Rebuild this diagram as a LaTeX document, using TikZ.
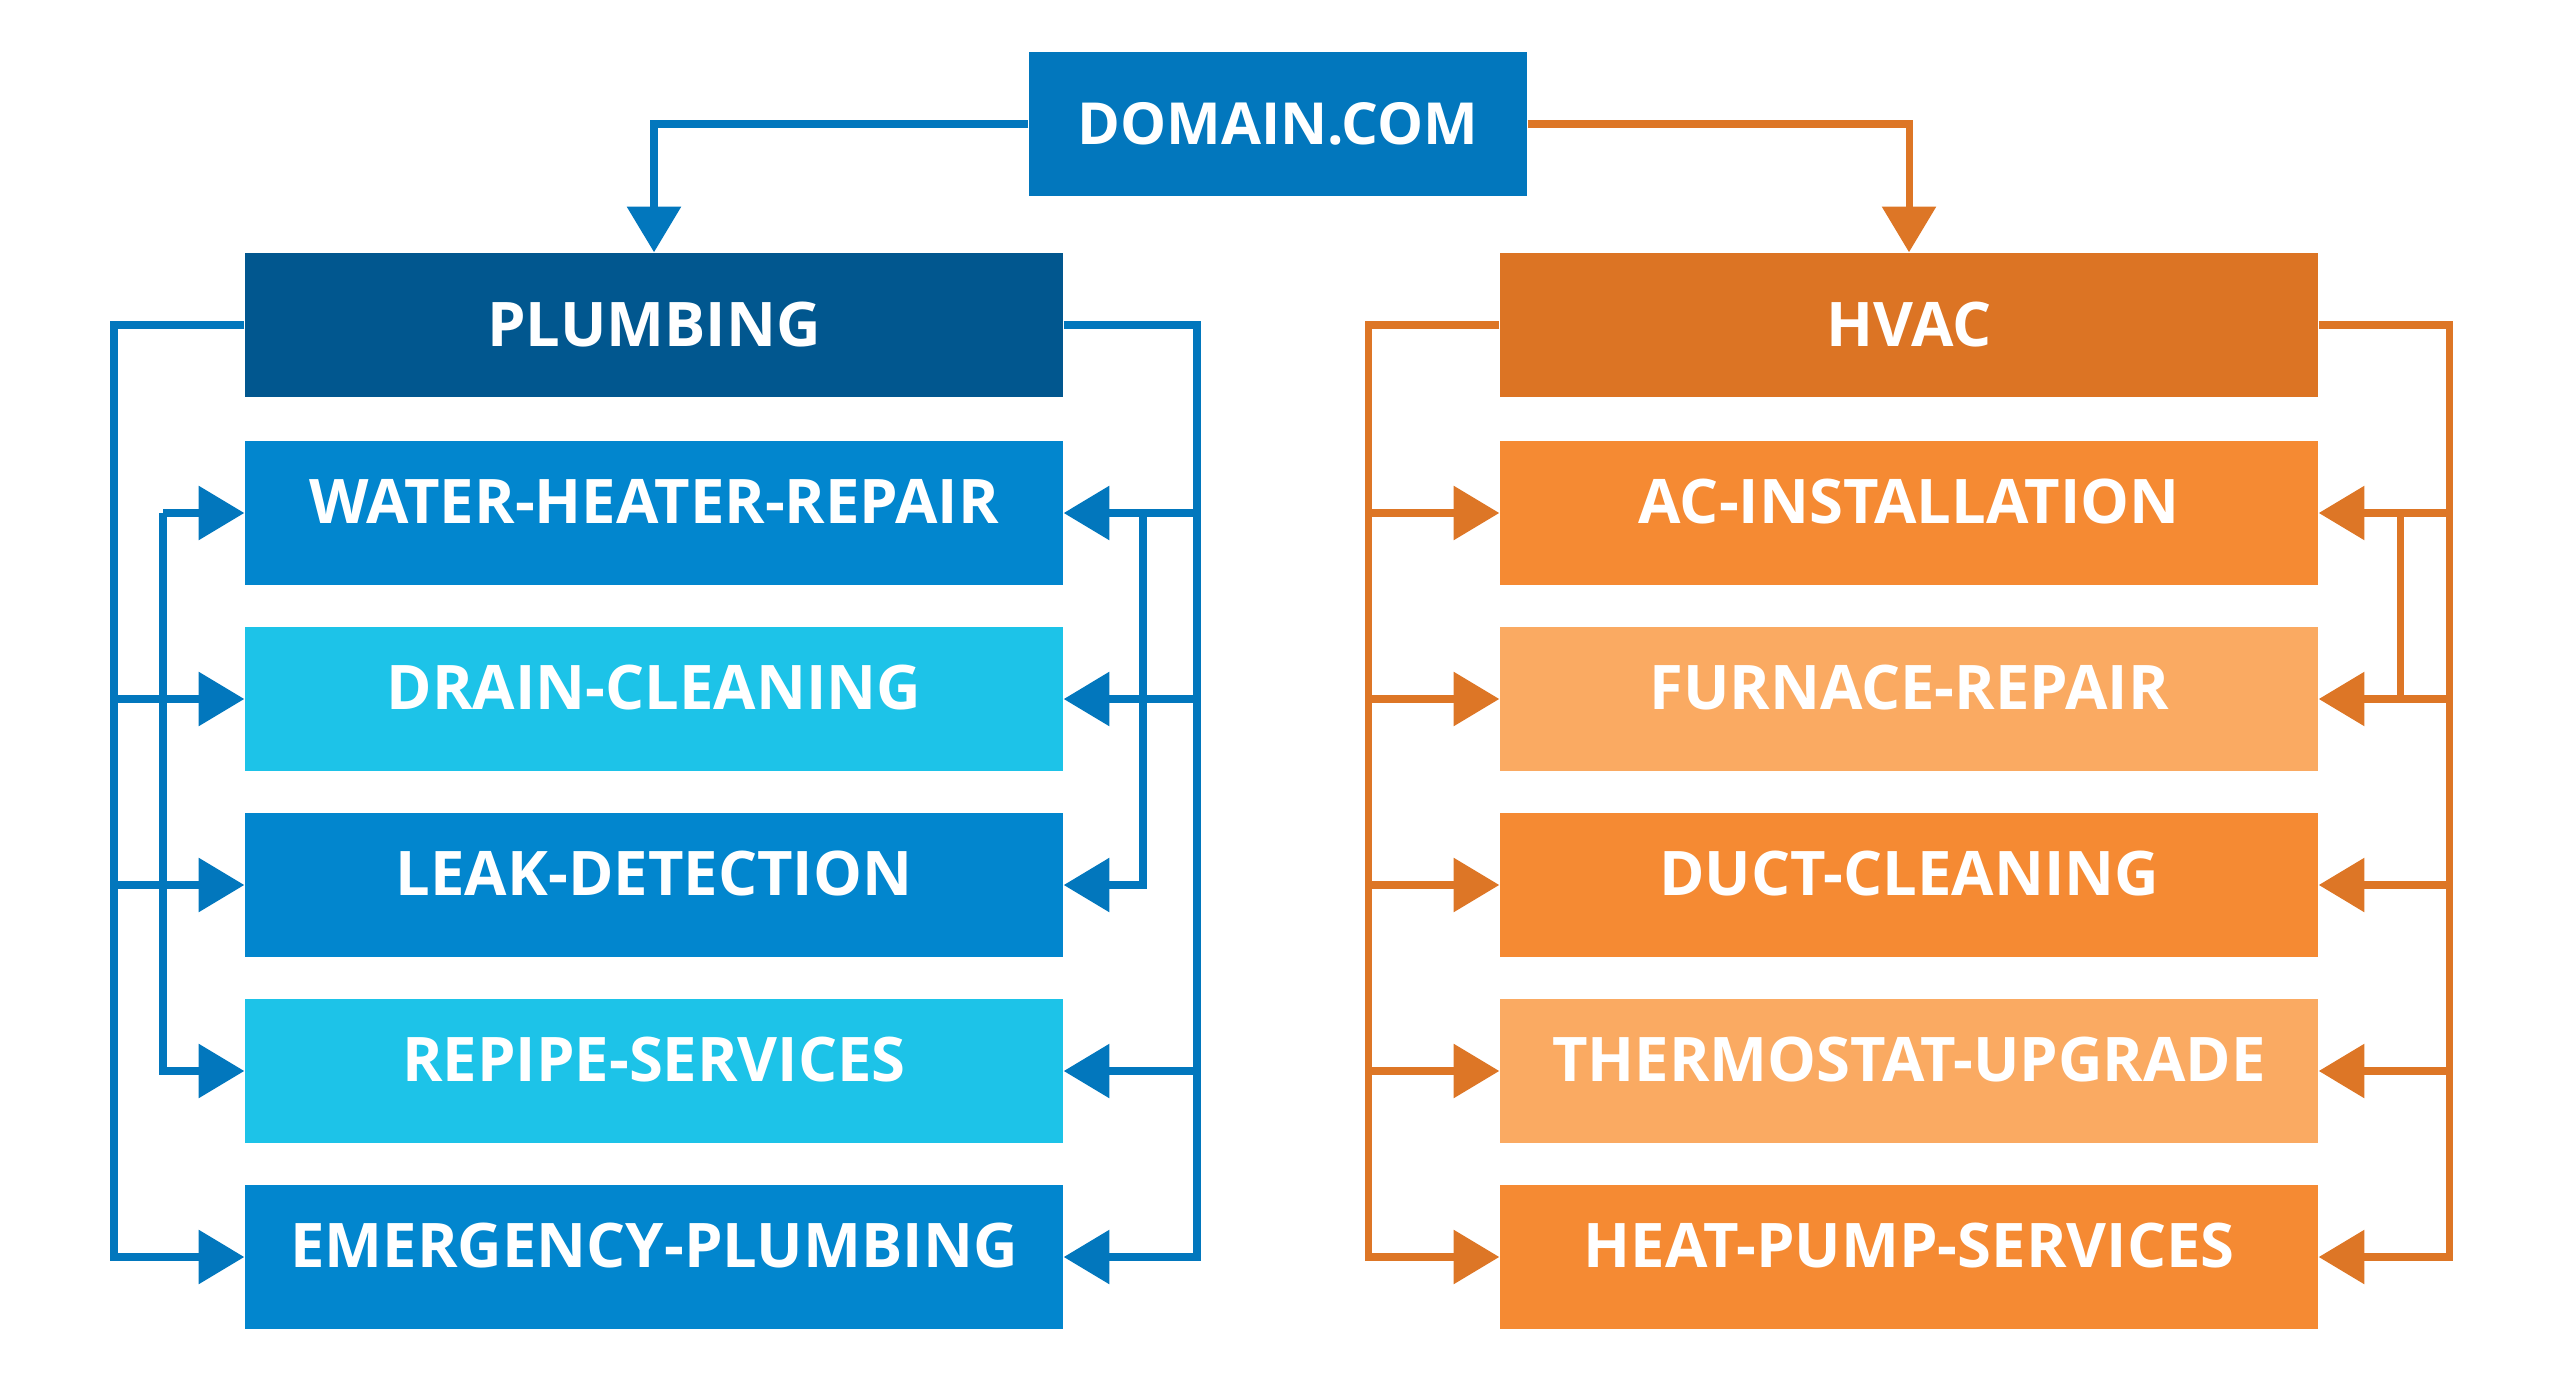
\documentclass[tikz,border=0pt]{standalone}
\usepackage{fontspec}
\setmainfont{Open Sans}
\usepackage{tikz}
\usetikzlibrary{positioning,calc}
\usetikzlibrary{arrows.meta}
\definecolor{DomBlue}{RGB}{2,119,189}
\definecolor{PlumbDark}{RGB}{1,87,143}
\definecolor{MidBlue}{RGB}{2,134,206}
\definecolor{SkyCyan}{RGB}{29,195,232}
\definecolor{LineBlue}{RGB}{2,119,189}
\definecolor{HvacDark}{RGB}{220,116,36}
\definecolor{HvacMid}{RGB}{245,138,51}
\definecolor{HvacLight}{RGB}{250,170,98}
\definecolor{LineOrange}{RGB}{221,118,38}
\tikzset{
  box/.style={rectangle,inner sep=0pt,minimum width=8.18cm,minimum height=1.44cm,text=white,
    font=\fontsize{17.5}{21}\selectfont\bfseries},
  row/.style={box,text depth=0.24cm},
  bl/.style={line width=2pt,draw=LineBlue},
  ol/.style={line width=2pt,draw=LineOrange},
  barr/.style={bl,-{Triangle[length=13pt,width=15pt]}},
  oarr/.style={ol,-{Triangle[length=13pt,width=15pt]}},
}

\begin{document}
\begin{tikzpicture}
\useasboundingbox (0,0) rectangle (25.6,13.96);
% top
\node[box,fill=DomBlue,minimum width=4.98cm,font=\fontsize{16.5}{20}\selectfont\bfseries](dom) at (12.78,12.72){DOMAIN.COM};
\node[box,fill=PlumbDark](pl) at (6.54,10.71){PLUMBING};
\node[box,fill=HvacDark](hv) at (19.09,10.71){HVAC};
% plumbing column
\node[row,fill=MidBlue](wh) at (6.54,8.83){WATER-HEATER-REPAIR};
\node[row,fill=SkyCyan](dr) at (6.54,6.97){DRAIN-CLEANING};
\node[row,fill=MidBlue](lk) at (6.54,5.11){LEAK-DETECTION};
\node[row,fill=SkyCyan](rp) at (6.54,3.25){REPIPE-SERVICES};
\node[row,fill=MidBlue](em) at (6.54,1.39){EMERGENCY-PLUMBING};
% hvac column
\node[row,fill=HvacMid](ac) at (19.09,8.83){AC-INSTALLATION};
\node[row,fill=HvacLight](fu) at (19.09,6.97){FURNACE-REPAIR};
\node[row,fill=HvacMid](du) at (19.09,5.11){DUCT-CLEANING};
\node[row,fill=HvacLight](th) at (19.09,3.25){THERMOSTAT-UPGRADE};
\node[row,fill=HvacMid](hp) at (19.09,1.39){HEAT-PUMP-SERVICES};
% bus lines
\coordinate(pL) at (1.14,0);\coordinate(pLi) at (1.63,0);\coordinate(pR) at (11.97,0);\coordinate(pRi) at (11.43,0);
\coordinate(hL) at (13.68,0);\coordinate(hR) at (24.49,0);\coordinate(hRi) at (24.00,0);
\draw[barr] (dom.west) -| (pl.north);\draw[oarr] (dom.east) -| (hv.north);
% plumbing left
\draw[barr] (pl.west) -| (pL |- em.west) -- (em.west);
\draw[barr] (pL |- dr.west) -- (dr.west);\draw[barr] (pL |- lk.west) -- (lk.west);
\draw[barr] (pLi |- wh.west) -- (wh.west);\draw[barr] (pLi |- wh.west) |- (rp.west);
% plumbing right
\draw[barr] (pl.east) -| (pR |- em.east) -- (em.east);
\draw[barr] (pR |- wh.east) -- (wh.east);\draw[barr] (pR |- dr.east) -- (dr.east);\draw[barr] (pR |- rp.east) -- (rp.east);
\draw[barr] (pRi |- wh.east) |- (lk.east);
% hvac left
\draw[oarr] (hv.west) -| (hL |- hp.west) -- (hp.west);
\foreach \n in {ac,fu,du,th}{\draw[oarr] (hL |- \n.west) -- (\n.west);}
% hvac right
\draw[oarr] (hv.east) -| (hR |- hp.east) -- (hp.east);
\foreach \n in {ac,fu,du,th}{\draw[oarr] (hR |- \n.east) -- (\n.east);}
\draw[ol] (hRi |- ac.east) -- (hRi |- fu.east);
\end{tikzpicture}
\end{document}
